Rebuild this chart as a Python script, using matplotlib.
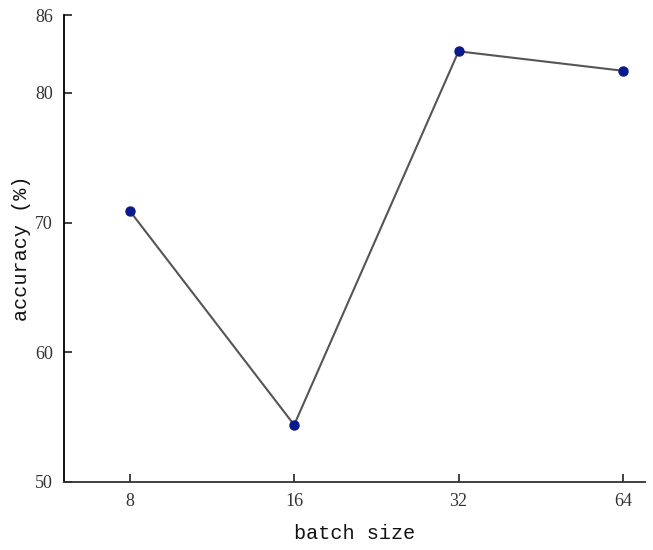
import matplotlib
matplotlib.use("Agg")
import matplotlib.pyplot as plt

batch_sizes = ["8", "16", "32", "64"]
accuracy = [70.9, 54.4, 83.2, 81.7]
y_ticks = [50, 60, 70, 80, 86]

fig = plt.figure(figsize=(6.53, 5.5), dpi=100)
ax = fig.add_axes([64 / 653, 1 - 482 / 550, (645 - 64) / 653, (482 - 15) / 550])

x = list(range(len(batch_sizes)))
ax.plot(x, accuracy, color="#555555", linewidth=1.5, zorder=2)
ax.plot(x, accuracy, linestyle="none", marker="o", markersize=6.5,
        color="#0a1a8c", zorder=3)

ax.set_xlim(-0.4, 3.134)
ax.set_ylim(50, 86)
ax.set_xticks(x)
ax.set_xticklabels(batch_sizes)
ax.set_yticks(y_ticks)

for side in ["top", "right"]:
    ax.spines[side].set_visible(False)
for side in ["left", "bottom"]:
    ax.spines[side].set_linewidth(1.3)
    ax.spines[side].set_color("black")
ax.spines["bottom"].set_color("#333333")

ax.tick_params(direction="in", length=6, width=1.3, pad=8, colors="#333333",
               labelsize=13)
for lab in ax.get_xticklabels() + ax.get_yticklabels():
    lab.set_family("Liberation Serif")

ax.set_xlabel("batch size", family="Liberation Mono", fontsize=14.5,
              color="#111111", labelpad=10)
ax.set_ylabel("accuracy (%)", family="Liberation Mono", fontsize=14.5,
              color="#111111", labelpad=3)

fig.savefig("out.png", dpi=100)
